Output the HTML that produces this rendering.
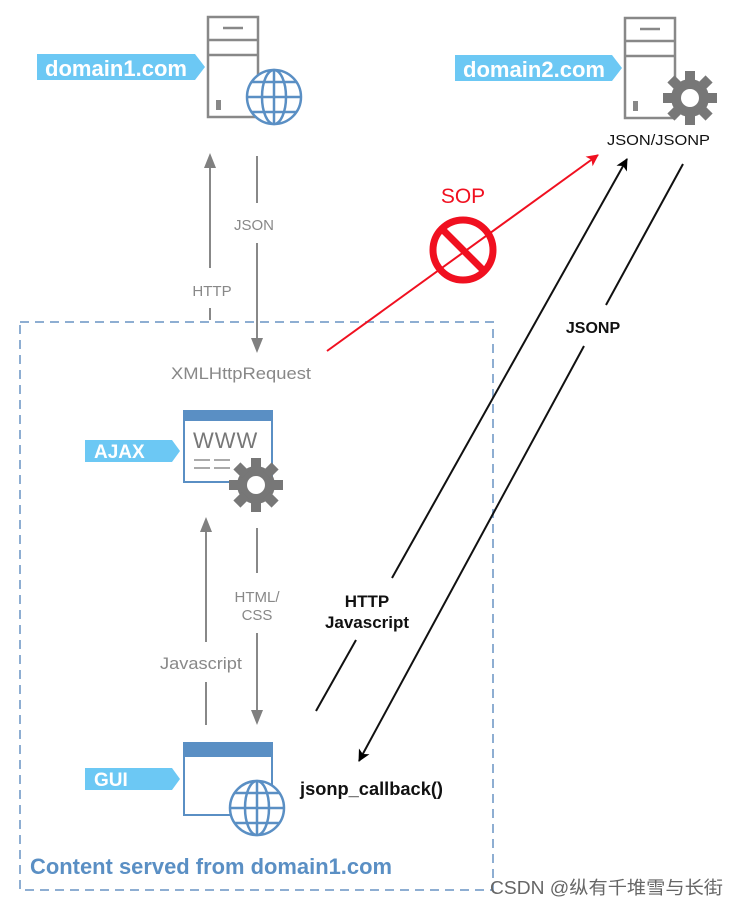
<!DOCTYPE html>
<html><head><meta charset="utf-8"><style>
html,body{margin:0;padding:0;background:#fff;}
svg{display:block;font-family:"Liberation Sans",Arial,sans-serif;}
</style></head><body>
<svg width="737" height="908" viewBox="0 0 737 908" xmlns="http://www.w3.org/2000/svg">
<defs>
<marker id="ab" markerWidth="12" markerHeight="14" refX="11" refY="6" orient="auto" markerUnits="userSpaceOnUse"><path d="M0,0 L12,6 L0,12 L3,6z" fill="#000"/></marker>
<marker id="ar" markerWidth="12" markerHeight="14" refX="11" refY="6" orient="auto" markerUnits="userSpaceOnUse"><path d="M0,0 L12,6 L0,12 L3,6z" fill="#f01020"/></marker>
<g id="gear"><circle r="19" fill="#777"/><g fill="#777"><rect x="-5" y="-27" width="10" height="12"/><rect x="-5" y="-27" width="10" height="12" transform="rotate(45)"/><rect x="-5" y="-27" width="10" height="12" transform="rotate(90)"/><rect x="-5" y="-27" width="10" height="12" transform="rotate(135)"/><rect x="-5" y="-27" width="10" height="12" transform="rotate(180)"/><rect x="-5" y="-27" width="10" height="12" transform="rotate(225)"/><rect x="-5" y="-27" width="10" height="12" transform="rotate(270)"/><rect x="-5" y="-27" width="10" height="12" transform="rotate(315)"/></g><circle r="9" fill="#fff"/></g>
<g id="globe" fill="none" stroke="#5a8fc4" stroke-width="2.5"><circle r="27" fill="#fff"/><ellipse rx="12" ry="27"/><line x1="0" y1="-27" x2="0" y2="27"/><line x1="-27" y1="0" x2="27" y2="0"/><path d="M-22,-15 H22 M-22,15 H22"/></g>
<g id="server" fill="none" stroke="#888" stroke-width="2.5"><rect x="0" y="0" width="50" height="100" fill="#fff"/><line x1="0" y1="23" x2="50" y2="23"/><line x1="0" y1="38" x2="50" y2="38"/><line x1="15" y1="11" x2="35" y2="11"/><rect x="8" y="83" width="5" height="10" fill="#888" stroke="none"/></g>
</defs>

<use href="#server" x="208" y="17"/>
<use href="#globe" x="274" y="97"/>
<path d="M37,54 H195 L205,67 L195,80 H37z" fill="#6cc8f4"/>
<text x="45" y="76" font-size="22" font-weight="bold" fill="#fff" textLength="142" lengthAdjust="spacingAndGlyphs">domain1.com</text>

<use href="#server" x="625" y="18"/>
<use href="#gear" x="690" y="98"/>
<path d="M455,55 H612 L622,68 L612,81 H455z" fill="#6cc8f4"/>
<text x="463" y="77" font-size="22" font-weight="bold" fill="#fff" textLength="142" lengthAdjust="spacingAndGlyphs">domain2.com</text>
<text x="607" y="145" font-size="15" fill="#111" textLength="103" lengthAdjust="spacingAndGlyphs">JSON/JSONP</text>

<rect x="20" y="322" width="473" height="568" fill="none" stroke="#8eaed2" stroke-width="2" stroke-dasharray="9,6"/>

<g stroke="#888" stroke-width="2">
<line x1="210" y1="320" x2="210" y2="308"/>
<line x1="210" y1="268" x2="210" y2="166"/>
<line x1="257" y1="156" x2="257" y2="203"/>
<line x1="257" y1="243" x2="257" y2="340"/>
<line x1="206" y1="725" x2="206" y2="682"/>
<line x1="206" y1="642" x2="206" y2="530"/>
<line x1="257" y1="528" x2="257" y2="573"/>
<line x1="257" y1="633" x2="257" y2="712"/>
</g>
<g fill="#808080">
<path d="M204,168 L216,168 L210,153z"/>
<path d="M251,338 L263,338 L257,353z"/>
<path d="M200,532 L212,532 L206,517z"/>
<path d="M251,710 L263,710 L257,725z"/>
</g>
<text x="254" y="230" font-size="15" fill="#888" text-anchor="middle">JSON</text>
<text x="212" y="296" font-size="15" fill="#888" text-anchor="middle">HTTP</text>
<text x="171" y="379" font-size="17" fill="#888" textLength="140" lengthAdjust="spacingAndGlyphs">XMLHttpRequest</text>

<line x1="327" y1="351" x2="598" y2="155" stroke="#f01020" stroke-width="2" marker-end="url(#ar)"/>
<text x="463" y="203" font-size="21" fill="#f01020" text-anchor="middle">SOP</text>
<circle cx="463" cy="250" r="30" fill="none" stroke="#f01020" stroke-width="7"/>
<line x1="443" y1="230" x2="483" y2="270" stroke="#f01020" stroke-width="7"/>

<line x1="316" y1="711" x2="356" y2="640" stroke="#111" stroke-width="2"/>
<line x1="392" y1="578" x2="627" y2="159" stroke="#111" stroke-width="2" marker-end="url(#ab)"/>
<text x="367" y="607" font-size="17" font-weight="bold" fill="#111" text-anchor="middle">HTTP</text>
<text x="367" y="628" font-size="17" font-weight="bold" fill="#111" text-anchor="middle">Javascript</text>
<line x1="683" y1="164" x2="606" y2="305" stroke="#111" stroke-width="2"/>
<line x1="584" y1="346" x2="359" y2="761" stroke="#111" stroke-width="2" marker-end="url(#ab)"/>
<text x="593" y="333" font-size="16" font-weight="bold" fill="#111" text-anchor="middle">JSONP</text>

<path d="M85,440 H172 L180,451 L172,462 H85z" fill="#6cc8f4"/>
<text x="94" y="458" font-size="19" font-weight="bold" fill="#fff">AJAX</text>
<rect x="184" y="411" width="88" height="71" fill="#fff" stroke="#5a8fc4" stroke-width="2"/>
<rect x="184" y="411" width="88" height="10" fill="#5a8fc4"/>
<text x="193" y="448" font-size="22" fill="#777" letter-spacing="1">WWW</text>
<path d="M194,460 H210 M214,460 H230 M194,468 H210 M214,468 H230" stroke="#aaa" stroke-width="2"/>
<use href="#gear" x="256" y="485"/>

<text x="257" y="602" font-size="15" fill="#888" text-anchor="middle">HTML/</text>
<text x="257" y="620" font-size="15" fill="#888" text-anchor="middle">CSS</text>
<text x="160" y="669" font-size="17" fill="#888" textLength="82" lengthAdjust="spacingAndGlyphs">Javascript</text>

<path d="M85,768 H172 L180,779 L172,790 H85z" fill="#6cc8f4"/>
<text x="94" y="786" font-size="19" font-weight="bold" fill="#fff">GUI</text>
<rect x="184" y="743" width="88" height="72" fill="#fff" stroke="#5a8fc4" stroke-width="2"/>
<rect x="184" y="743" width="88" height="14" fill="#5a8fc4"/>
<use href="#globe" x="257" y="808"/>
<text x="300" y="795" font-size="18" font-weight="bold" fill="#111" textLength="143" lengthAdjust="spacingAndGlyphs">jsonp_callback()</text>

<text x="30" y="874" font-size="22" font-weight="bold" fill="#5a8fc4" textLength="362" lengthAdjust="spacingAndGlyphs">Content served from domain1.com</text>
<text x="490" y="894" font-size="18" fill="#666" textLength="233" lengthAdjust="spacingAndGlyphs" font-family="'Liberation Sans','Noto Sans CJK SC',sans-serif">CSDN @纵有千堆雪与长街</text>
</svg>
</body></html>
